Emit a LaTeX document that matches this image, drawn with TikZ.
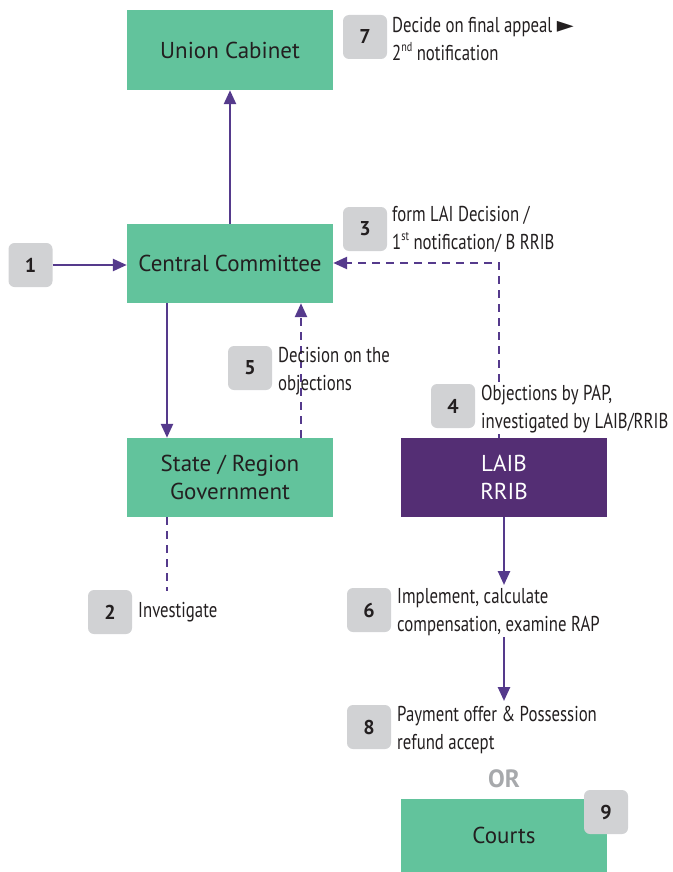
\documentclass[tikz,border=0pt]{standalone}
\usepackage{fontspec}
\setmainfont{PT Sans}
\newfontfamily\condfont[FakeStretch=0.78]{PT Sans}
\newfontfamily\symfont{DejaVu Sans}
\usetikzlibrary{arrows.meta}
\definecolor{boxgreen}{HTML}{62C39C}
\definecolor{boxpurple}{HTML}{542E74}
\definecolor{linepurple}{HTML}{553A8C}
\definecolor{badgegray}{HTML}{D1D2D4}
\definecolor{txt}{HTML}{231F20}
\definecolor{orgray}{HTML}{A7A9AC}
\tikzset{
  gbox/.style={fill=boxgreen, minimum width=206pt, inner sep=0pt, align=center, text=txt,
    font=\fontsize{23}{28}\selectfont},
  pbox/.style={gbox, fill=boxpurple, text=white},
  badge/.style={fill=badgegray, rounded corners=6pt, minimum width=44pt, minimum height=44pt,
    inner sep=0pt, text=txt, font=\bfseries\fontsize{20}{22}\selectfont},
  lbl/.style={anchor=west, inner sep=0pt, align=left, text=txt,
    font=\condfont\fontsize{21.5}{28}\selectfont},
  conn/.style={draw=linepurple, line width=2.5pt},
  arr/.style={conn, -{Triangle[length=14pt, width=12pt]}},
  dashline/.style={conn, dash pattern=on 8pt off 6pt},
  darr/.style={dashline, -{Triangle[length=14pt, width=12pt]}},
}
\newcommand{\supx}[1]{\raisebox{0.42em}{\fontsize{13}{14}\selectfont #1}}
\begin{document}
\begin{tikzpicture}[x=1pt, y=-1pt]
\useasboundingbox (0,0) rectangle (672,872);
% boxes
\node[gbox, minimum height=80pt] (UC) at (230,50) {Union Cabinet};
\node[gbox, minimum height=79pt] (CC) at (230,263.5) {Central Committee};
\node[gbox, minimum height=79pt] (SR) at (230,477.5) {State / Region\\Government};
\node[pbox, minimum height=79pt] (LA) at (504,477.5) {LAIB\\RRIB};
\node[gbox, minimum height=73pt] (CO) at (504,835.5) {Courts};
% helper coordinates
\coordinate (xL) at (167,0);
\coordinate (xR) at (301,0);
\coordinate (c3) at (499,263);
\coordinate (inv) at (167,591);
\coordinate (a6e) at (504,585);
\coordinate (a8s) at (504,637);
\coordinate (a8e) at (504,701);
% connectors (drawn before labels)
\draw[arr] (CC.north) -- (UC.south);
\draw[arr] (CC.south -| xL) -- (SR.north -| xL);
\draw[darr] (SR.north -| xR) -- (CC.south -| xR);
\draw[dashline] (SR.south -| xL) -- (inv);
\draw[darr] (LA.north -| c3) -- (c3) -- (CC.east |- c3);
\draw[arr] (LA.south) -- (a6e);
\draw[arr] (a8s) -- (a8e);
% badges
\node[badge] (b1) at (30.5,265) {1};
\draw[arr] (b1.east) -- (CC.west |- b1);
\node[badge] (b7) at (365,37) {7};
\node[badge] (b3) at (365,229) {3};
\node[badge] (b5) at (250,368) {5};
\node[badge] (b4) at (453,406) {4};
\node[badge] (b2) at (110,612) {2};
\node[badge] (b6) at (369,610) {6};
\node[badge] (b8) at (369,727) {8};
% labels
\node[lbl] (t7) at (392,39) {Decide on final appeal {\symfont\fontsize{22}{22}\selectfont ►}\\2\supx{nd} notification};
\node[lbl] (t3) at (392,229) {form LAI Decision /\\1\supx{st} notification/ B RRIB};
\node[lbl] (t5) at (278,371) {Decision on the\\objections};
\node[lbl, fill=white, inner sep=1pt] (t4) at (480,409) {Objections by PAP,\\investigated by LAIB/RRIB};
\node[lbl] (t2) at (138,612) {Investigate};
\node[lbl] (t6) at (397,612) {Implement, calculate\\compensation, examine RAP};
\node[lbl] (t8) at (397,730) {Payment offer \& Possession\\refund accept};
\node[text=orgray, font=\bfseries\fontsize{25}{26}\selectfont, inner sep=0pt] (or) at (504,779) {OR};
\node[badge] (b9) at (606,812) {9};
\end{tikzpicture}
\end{document}
